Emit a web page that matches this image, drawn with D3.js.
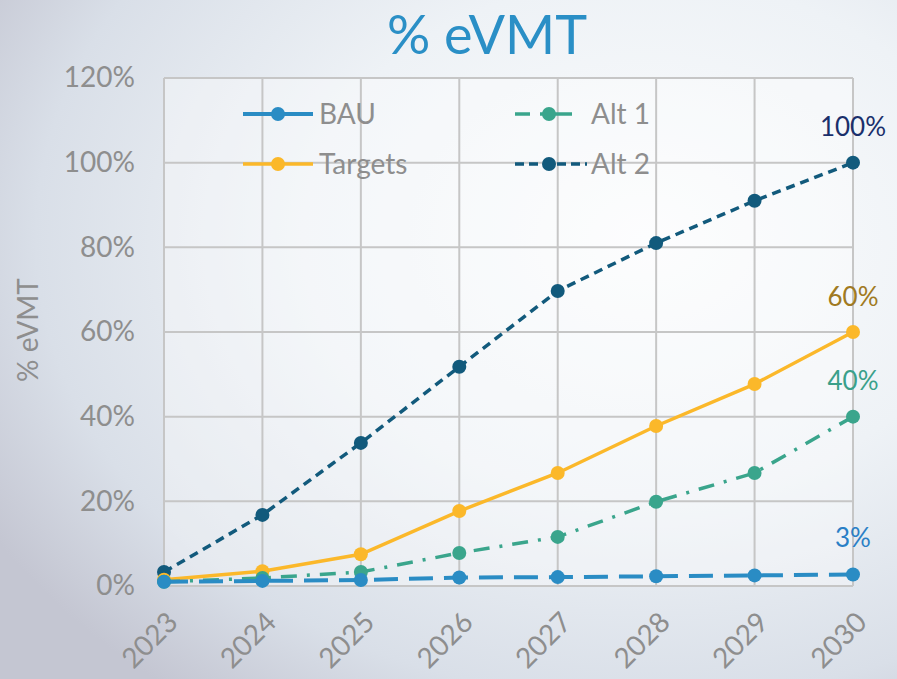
<!DOCTYPE html>
<meta charset="utf-8">
<script src="https://d3js.org/d3.v7.min.js"></script>
<style>
  body { margin: 0; }
  svg { display: block; font-family: Lato, "Noto Sans", sans-serif; }
</style>
<div id="my_dataviz"></div>
<script>
// data
var years = [2023, 2024, 2025, 2026, 2027, 2028, 2029, 2030];
var bau = [1.0, 1.2, 1.4, 2.0, 2.1, 2.3, 2.5, 2.7];
var targets = [1.5, 3.5, 7.5, 17.7, 26.7, 37.8, 47.7, 60];
var alt1 = [1.0, 1.9, 3.3, 7.8, 11.6, 19.9, 26.7, 40];
var alt2 = [3.3, 16.8, 33.8, 51.8, 69.7, 81, 91, 100];
var yTicks = [0, 20, 40, 60, 80, 100, 120];
var endLabels = ["3%", "60%", "40%", "100%"];

var W = 897, H = 679;
var margin = {top: 78, right: 44, bottom: 93, left: 164},
    width = W - margin.left - margin.right,
    height = H - margin.top - margin.bottom;

var svg = d3.select("#my_dataviz")
  .append("svg")
    .attr("width", W)
    .attr("height", H);

// background
var defs = svg.append("defs");
var bg = defs.append("radialGradient")
  .attr("id", "bg").attr("cx", "0.72").attr("cy", "0.35").attr("r", "0.85");
bg.append("stop").attr("offset", "0").attr("stop-color", "#fbfcfd");
bg.append("stop").attr("offset", "0.45").attr("stop-color", "#eef2f6");
bg.append("stop").attr("offset", "0.8").attr("stop-color", "#d9dfe8");
bg.append("stop").attr("offset", "1").attr("stop-color", "#c4c6d2");
svg.append("rect").attr("width", W).attr("height", H).attr("fill", "url(#bg)");

var g = svg.append("g")
  .attr("transform", "translate(" + margin.left + "," + margin.top + ")");

var x = d3.scalePoint().domain(years).range([0, width]);
var y = d3.scaleLinear().domain([0, 120]).range([height, 0]);

// plot area
g.append("rect")
  .attr("width", width).attr("height", height)
  .attr("fill", "#ffffff").attr("fill-opacity", 0.35);

// grid
g.append("g")
  .selectAll("line.h")
  .data(yTicks)
  .enter().append("line")
    .attr("x1", 0).attr("x2", width)
    .attr("y1", function(d){ return y(d) }).attr("y2", function(d){ return y(d) })
    .attr("stroke", "#c6c6c6").attr("stroke-width", 2);
g.append("g")
  .selectAll("line.v")
  .data(years)
  .enter().append("line")
    .attr("x1", function(d){ return x(d) }).attr("x2", function(d){ return x(d) })
    .attr("y1", 0).attr("y2", height)
    .attr("stroke", "#c6c6c6").attr("stroke-width", 2);

// y axis
var yAxis = g.append("g")
  .call(d3.axisLeft(y).tickValues(yTicks).tickSize(0).tickPadding(29)
    .tickFormat(function(d){ return d + "%" }));
yAxis.select(".domain").remove();
yAxis.selectAll("text")
  .style("font-size", "28px").attr("fill", "#8e8e8e")
  .attr("font-family", "Lato, 'Noto Sans', sans-serif");

// x axis
var xAxis = g.append("g")
  .attr("transform", "translate(0," + height + ")")
  .call(d3.axisBottom(x).tickSize(0).tickPadding(0));
xAxis.select(".domain").remove();
xAxis.selectAll("text")
  .style("font-size", "28px").attr("fill", "#8e8e8e")
  .attr("font-family", "Lato, 'Noto Sans', sans-serif")
  .attr("text-anchor", "end")
  .attr("dy", "0")
  .attr("transform", "translate(15,38) rotate(-45)");

// y title
svg.append("text")
  .attr("transform", "translate(38," + (margin.top + height / 2 - 2) + ") rotate(-90)")
  .attr("text-anchor", "middle")
  .style("font-size", "28px").attr("fill", "#8e8e8e")
  .text("% eVMT");

// title
svg.append("text")
  .attr("x", 487).attr("y", 54)
  .attr("text-anchor", "middle")
  .style("font-size", "54px").attr("fill", "#2a8fc6")
  .text("% eVMT");

var series = [
  {name: "BAU", values: bau, color: "#2a8cc4", dash: "24,11", width: 4},
  {name: "Targets", values: targets, color: "#fbb82a", dash: null, width: 3.5},
  {name: "Alt 1", values: alt1, color: "#3aa58c", dash: "16,10,3,10", width: 3.5},
  {name: "Alt 2", values: alt2, color: "#125a7c", dash: "9,6", width: 3.5}
];

var line = d3.line()
  .x(function(d, i){ return x(years[i]) })
  .y(function(d){ return y(d) });

// draw order as in the picture: Alt 2, Alt 1, Targets, BAU on top
[3, 1, 2, 0].forEach(function(k) {
  var s = series[k];
  g.append("path")
    .datum(s.values)
    .attr("d", line)
    .attr("fill", "none")
    .attr("stroke", s.color)
    .attr("stroke-width", s.width)
    .attr("stroke-dasharray", s.dash);
  g.append("g")
    .selectAll("circle")
    .data(s.values)
    .enter().append("circle")
      .attr("cx", function(d, i){ return x(years[i]) })
      .attr("cy", function(d){ return y(d) })
      .attr("r", 7)
      .attr("fill", s.color);
});

// end labels
var labelColors = ["#2a7fc6", "#a07a22", "#3aa08a", "#1a2f6b"];
var labelOffsets = [-28, -26, -27, -27];
series.forEach(function(s, k) {
  g.append("text")
    .attr("x", x(2030))
    .attr("y", y(s.values[s.values.length - 1]) + labelOffsets[k])
    .attr("text-anchor", "middle")
    .style("font-size", "26px")
    .attr("fill", labelColors[k])
    .text(endLabels[k]);
});

// legend
var legend = [
  {s: series[0], x: 243, y: 114, lw: 70, dash: null},
  {s: series[1], x: 243, y: 164, lw: 70, dash: null},
  {s: series[2], x: 515, y: 114, lw: 57, dash: "15,10,32,100"},
  {s: series[3], x: 515, y: 164, lw: 72, dash: "9,5"}
];
legend.forEach(function(l) {
  var alt = l.s.name.indexOf("Alt") === 0;
  svg.append("line")
    .attr("x1", l.x).attr("x2", l.x + l.lw)
    .attr("y1", l.y).attr("y2", l.y)
    .attr("stroke", l.s.color).attr("stroke-width", l.s.width)
    .attr("stroke-dasharray", l.dash);
  svg.append("circle")
    .attr("cx", alt ? 549 : 278).attr("cy", l.y).attr("r", 7).attr("fill", l.s.color);
  svg.append("text")
    .attr("x", alt ? 591 : 319)
    .attr("y", l.y + 10)
    .style("font-size", "28px").attr("fill", "#8e8e8e")
    .text(l.s.name);
});
</script>
